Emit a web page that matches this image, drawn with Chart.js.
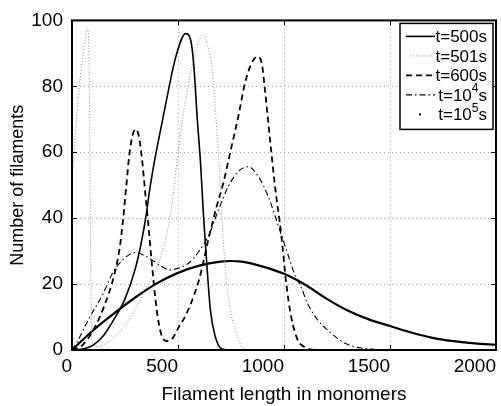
<!DOCTYPE html>
<html>
<head>
<meta charset="utf-8">
<script src="https://cdn.jsdelivr.net/npm/chart.js@4"></script>
<style>
  html, body { margin: 0; padding: 0; background: #fff; }
  #wrap { width: 501px; height: 406px; }
</style>
</head>
<body>
<div id="wrap"><canvas id="chart" width="501" height="406"></canvas></div>
<script>
// values
const xTicks = [0, 500, 1000, 1500, 2000];
const yTicks = [0, 20, 40, 60, 80, 100];
const seriesLabels = ['t=500s', 't=501s', 't=600s', 't=10^4s', 't=10^5s'];

const t500X = [0, 50, 100, 150, 200, 250, 300, 325, 350, 365, 380, 400, 440, 490, 536, 560, 575, 590, 606, 621, 637, 653, 676, 707, 750, 2000];
const t500Y = [0, 0.3, 1.5, 4.5, 9.5, 15.5, 25, 32, 41, 48, 54, 61, 74, 89, 96, 94, 86, 71, 57, 40, 25, 12, 4, 0.3, 0, 0];

const t501X = [0, 10, 22, 35, 45, 60, 72, 78, 82, 85, 88, 91, 95, 100, 120, 150, 200, 250, 300, 350, 400, 450, 475, 500, 536, 567, 590, 620, 645, 660, 673, 684, 692, 707, 730, 754, 785, 808, 850, 2000];
const t501Y = [52, 60, 71, 80, 86, 93, 97.5, 95, 80, 55, 28, 10, 3, 1.5, 1.0, 1.6, 4, 7.5, 12.5, 19, 25, 36, 46, 60, 76, 86, 92, 95.7, 91, 86, 76, 66, 59, 40, 20, 10, 3.2, 0.5, 0, 0];

const t600X = [0, 50, 100, 150, 200, 225, 240, 255, 270, 285, 300, 315, 330, 345, 360, 380, 400, 420, 445, 470, 500, 536, 560, 600, 645, 680, 715, 750, 785, 816, 847, 875, 895, 910, 933, 957, 987, 1011, 1034, 1065, 1104, 1150, 2000];
const t600Y = [0, 1.5, 6, 13, 23, 31, 39, 49, 59, 65, 67, 65, 58, 48, 38, 24, 12, 5, 2.7, 3.2, 6.5, 10.5, 14, 21.5, 34, 43, 51, 61, 71, 81, 87, 89, 87, 79, 64.5, 50, 35, 20, 10, 3, 0.7, 0, 0];

const t1e4X = [0, 22, 84, 146, 193, 240, 300, 349, 380, 420, 460, 500, 551, 598, 645, 692, 738, 785, 832, 879, 925, 957, 987, 1019, 1050, 1081, 1112, 1159, 1221, 1283, 1346, 1408, 1500, 2000];
const t1e4Y = [0, 2.2, 10, 17, 23.5, 27.4, 29.6, 28.4, 27.2, 25.5, 24.3, 24.8, 26.4, 29.9, 34.8, 42.7, 49.7, 54.2, 55.6, 52.6, 46.7, 40.8, 35, 28.9, 23, 19, 14, 9.1, 5.2, 2.2, 0.8, 0.3, 0, 0];

const t1e5X = [0, 100, 200, 300, 400, 500, 600, 700, 750, 800, 900, 1000, 1100, 1200, 1300, 1400, 1500, 1600, 1700, 1800, 1900, 2000];
const t1e5Y = [0, 6, 11.2, 16, 20.2, 23.4, 25.6, 26.8, 27, 26.8, 25.3, 23.1, 19.8, 15.6, 12, 9.3, 7.3, 5.3, 3.7, 2.7, 2.0, 1.6];

const FONT = "'Liberation Sans', Arial, Helvetica, sans-serif";

function pts(xs, ys) {
    return xs.map((x, i) => ({ x: x, y: ys[i] }));
}

// dotted grid, box frame with inward ticks, legend inside the box
const framePlugin = {
    id: 'frame',
    beforeDatasetsDraw(chart) {
        const ctx = chart.ctx;
        const a = chart.chartArea;
        const xs = chart.scales.x, ys = chart.scales.y;
        ctx.save();
        ctx.strokeStyle = '#a0a0a0';
        ctx.lineWidth = 1;
        ctx.setLineDash([1, 3]);
        xTicks.forEach(v => {
            const px = Math.round(xs.getPixelForValue(v)) + 0.5;
            ctx.beginPath(); ctx.moveTo(px, a.top); ctx.lineTo(px, a.bottom); ctx.stroke();
        });
        yTicks.forEach(v => {
            const py = Math.round(ys.getPixelForValue(v)) + 0.5;
            ctx.beginPath(); ctx.moveTo(a.left, py); ctx.lineTo(a.right, py); ctx.stroke();
        });
        ctx.restore();
    },
    afterDatasetsDraw(chart) {
        const ctx = chart.ctx;
        const a = chart.chartArea;
        const xs = chart.scales.x, ys = chart.scales.y;
        ctx.save();
        ctx.strokeStyle = '#000';
        ctx.lineWidth = 2;
        ctx.setLineDash([]);
        ctx.strokeRect(a.left, a.top, a.right - a.left, a.bottom - a.top);
        ctx.lineWidth = 1;
        const tl = 5;
        xTicks.forEach(v => {
            const px = Math.round(xs.getPixelForValue(v)) + 0.5;
            ctx.beginPath();
            ctx.moveTo(px, a.bottom); ctx.lineTo(px, a.bottom - tl);
            ctx.moveTo(px, a.top); ctx.lineTo(px, a.top + tl);
            ctx.stroke();
        });
        yTicks.forEach(v => {
            const py = Math.round(ys.getPixelForValue(v)) + 0.5;
            ctx.beginPath();
            ctx.moveTo(a.left, py); ctx.lineTo(a.left + tl, py);
            ctx.moveTo(a.right, py); ctx.lineTo(a.right - tl, py);
            ctx.stroke();
        });

        // legend
        const bx = a.right - 96, by = a.top + 3, bw = 93, bh = 106;
        ctx.fillStyle = '#fff';
        ctx.fillRect(bx, by, bw, bh);
        ctx.lineWidth = 1.5;
        ctx.strokeStyle = '#000';
        ctx.strokeRect(bx, by, bw, bh);
        const rowH = 19.5;
        chart.data.datasets.forEach((ds, i) => {
            const cy = by + 13 + i * rowH;
            ctx.save();
            ctx.strokeStyle = ds.borderColor;
            ctx.lineWidth = ds.borderWidth;
            ctx.setLineDash(ds.borderDash || []);
            if (ds.legendDot) {
                ctx.fillStyle = '#000';
                ctx.fillRect(bx + 19, cy - 1, 2, 2);
            } else if (ds.borderDash && ds.borderDash[0] === 1) {
                ctx.beginPath(); ctx.moveTo(bx + 10, cy); ctx.lineTo(bx + 34, cy); ctx.stroke();
            } else {
                ctx.beginPath(); ctx.moveTo(bx + 6, cy); ctx.lineTo(bx + 35, cy); ctx.stroke();
            }
            ctx.restore();

            const parts = ds.label.split('^');
            const main = 17, small = 12;
            ctx.fillStyle = '#000';
            ctx.textBaseline = 'middle';
            ctx.textAlign = 'left';
            let pieces;
            if (parts.length === 1) {
                pieces = [{ t: parts[0], f: main, dy: 0 }];
            } else {
                pieces = [
                    { t: parts[0], f: main, dy: 0 },
                    { t: parts[1].slice(0, 1), f: small, dy: -7 },
                    { t: parts[1].slice(1), f: main, dy: 0 }
                ];
            }
            let total = 0;
            pieces.forEach(p => { ctx.font = p.f + 'px ' + FONT; p.w = ctx.measureText(p.t).width; total += p.w; });
            let x = bx + bw - 6 - total;
            pieces.forEach(p => {
                ctx.font = p.f + 'px ' + FONT;
                ctx.fillText(p.t, x, cy + 1 + p.dy);
                x += p.w;
            });
        });
        ctx.restore();
    }
};

const ctx = document.getElementById('chart').getContext('2d');
const chart = new Chart(ctx, {
    type: 'line',
    data: {
        datasets: [
            {
                label: seriesLabels[0], data: pts(t500X, t500Y),
                borderColor: '#000', borderWidth: 1.6, borderDash: []
            },
            {
                label: seriesLabels[1], data: pts(t501X, t501Y),
                borderColor: '#8a8a8a', borderWidth: 1, borderDash: [1, 2]
            },
            {
                label: seriesLabels[2], data: pts(t600X, t600Y),
                borderColor: '#000', borderWidth: 1.8, borderDash: [6, 4]
            },
            {
                label: seriesLabels[3], data: pts(t1e4X, t1e4Y),
                borderColor: '#000', borderWidth: 1.1, borderDash: [6, 3, 1.5, 3]
            },
            {
                label: seriesLabels[4], data: pts(t1e5X, t1e5Y),
                borderColor: '#000', borderWidth: 2.2, borderDash: [], legendDot: true
            }
        ]
    },
    options: {
        responsive: false,
        animation: false,
        events: [],
        layout: { padding: { top: 14, right: 1, left: 0, bottom: 0 } },
        elements: {
            point: { radius: 0 },
            line: { cubicInterpolationMode: 'monotone', fill: false }
        },
        plugins: {
            legend: { display: false },
            tooltip: { enabled: false }
        },
        scales: {
            x: {
                type: 'linear',
                min: 0, max: 2000,
                afterBuildTicks: s => { s.ticks = xTicks.map(v => ({ value: v })); },
                afterFit: s => { s.height = 56; },
                grid: { display: false, drawTicks: false },
                border: { display: false },
                ticks: {
                    align: 'end', padding: 5, color: '#000',
                    font: { family: FONT, size: 19 },
                    callback: v => String(v)
                },
                title: {
                    display: true, text: 'Filament length in monomers', color: '#000',
                    font: { family: FONT, size: 19 }, padding: { top: 0, bottom: 0 }
                }
            },
            y: {
                type: 'linear',
                min: 0, max: 100,
                afterBuildTicks: s => { s.ticks = yTicks.map(v => ({ value: v })); },
                afterFit: s => { s.width = 72; },
                grid: { display: false, drawTicks: false },
                border: { display: false },
                ticks: {
                    padding: 9, color: '#000',
                    font: { family: FONT, size: 19 },
                    callback: v => String(v)
                },
                title: {
                    display: true, text: 'Number of filaments', color: '#000',
                    font: { family: FONT, size: 18 }, padding: { top: 7, bottom: 0 }
                }
            }
        }
    },
    plugins: [framePlugin]
});
</script>
</body>
</html>
